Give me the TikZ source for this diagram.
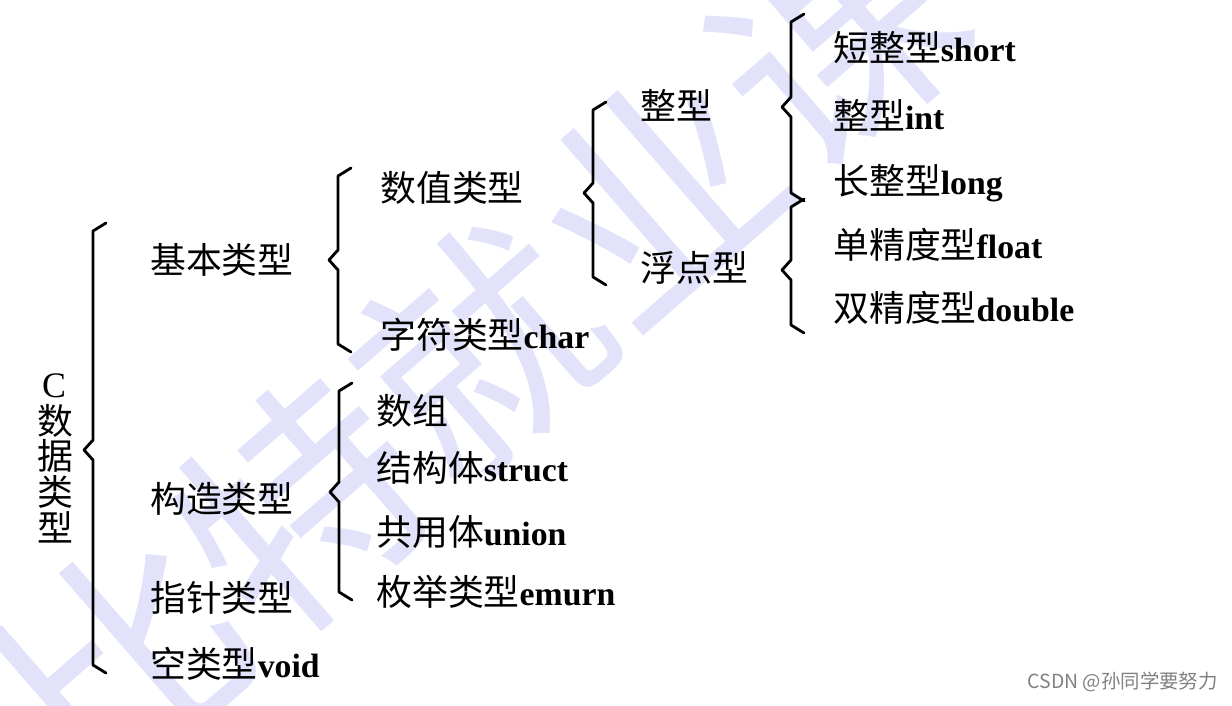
\documentclass[tikz,border=0pt]{standalone}
\usepackage{fontspec}
\setmainfont{Liberation Serif}
\newfontfamily\cjk{Noto Sans CJK SC}
\definecolor{wmblue}{RGB}{226,226,250}

% one brace: x, top, cusp, bottom (pixel units)
\newcommand*{\drawBrace}[4]{%
    \draw[brace] (#1+13,#2-8) -- (#1,#2) -- (#1,#3-10) -- (#1-9,#3)
        -- (#1,#3+10) -- (#1,#4) -- (#1+13,#4+8);%
}
\newcommand*{\ent}[2]{{\cjk #1}{\fontsize{24}{28}\selectfont\bfseries #2}}

\begin{document}
\begin{tikzpicture}[x = 0.025cm, y = -0.025cm, black]

\tikzset{
    brace/.style = {line width = 2pt, line join = round, line cap = round},
    entry/.style = {anchor = base west, inner sep = 0pt,
                    font = \fontsize{25.5}{30}\selectfont},
    colchar/.style = {anchor = base, inner sep = 0pt,
                      font = \fontsize{25.5}{30}\selectfont},
    watermark/.style = {text = wmblue, inner sep = 0pt, rotate = 41,
                        font = \cjk\fontsize{168}{170}\selectfont},
}

\useasboundingbox (0,0) rectangle (1232,705);

\node[watermark] (wm) at (480,350) {比特就业课};

% column title
\node[colchar] (cC) at (54,397) {C};
\foreach \CH/\Y [count = \i] in {数/434, 据/469, 类/505, 型/541}{
    \node[colchar, font = \cjk\fontsize{25.5}{30}\selectfont] (c\i) at (55,\Y) {\CH};
    };

% entries: name / x / centre y / chinese / latin
\foreach \NAME/\X/\Y/\CJK/\LAT in {
                basic/150/260/基本类型/,
                compound/150/499/构造类型/,
                pointer/150/598/指针类型/,
                void/150/664/空类型/void,
                numeric/380/188/数值类型/,
                char/380/335/字符类型/char,
                integer/640/106/整型/,
                floating/640/268/浮点型/,
                short/833/48/短整型/short,
                int/833/116/整型/int,
                long/833/181/长整型/long,
                float/833/245/单精度型/float,
                double/833/308/双精度型/double,
                array/376/411/数组/,
                struct/376/468/结构体/struct,
                union/376/532/共用体/union,
                enum/376/592/枚举类型/emurn}{
    \node[entry] (\NAME) at (\X,\Y+13) {\ent{\CJK}{\LAT}};
    };

\drawBrace{93}{231}{450}{665}
\drawBrace{338}{176}{260}{344}
\drawBrace{593}{110}{193}{277}
\drawBrace{791}{22}{107}{193}
\drawBrace{791}{207}{270}{325}
\drawBrace{339}{391}{492}{592}

\node[anchor = base east, inner sep = 0pt, text = black!50,
      font = \cjk\fontsize{13.8}{16}\selectfont] (csdn) at (1218,688) {CSDN @孙同学要努力};

\end{tikzpicture}
\end{document}
